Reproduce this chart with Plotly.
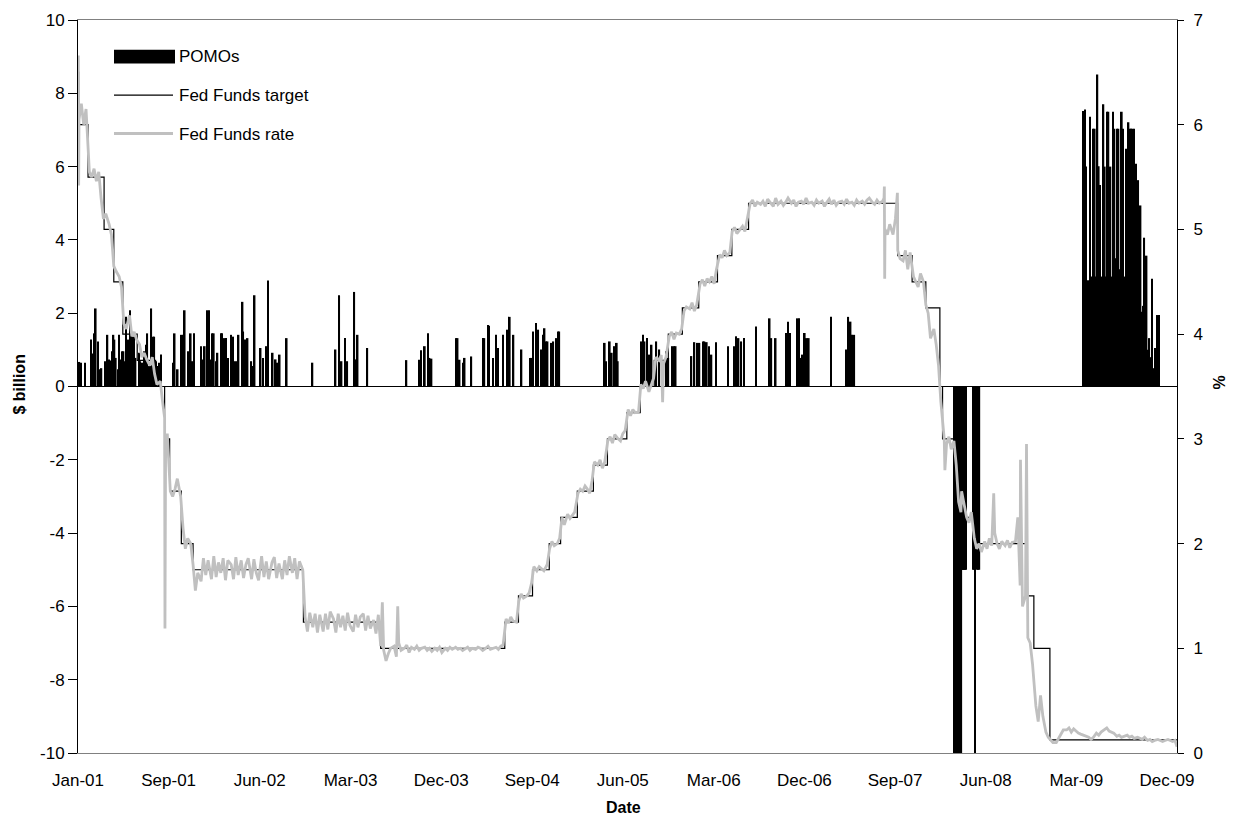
import pandas as pd
import plotly.graph_objects as go

# ---------------------------------------------------------------- data
# Permanent open market operations ($ billion), by settlement date
pomo_dates = [
    "2001-01-05", "2001-01-10", "2001-01-22", "2001-02-09", "2001-02-14", "2001-02-20", "2001-02-23",
    "2001-03-02", "2001-03-07", "2001-03-12", "2001-03-23", "2001-03-30", "2001-04-04", "2001-04-09",
    "2001-04-13", "2001-04-17", "2001-04-20", "2001-04-24", "2001-05-01", "2001-05-04", "2001-05-10",
    "2001-05-14", "2001-05-17", "2001-05-22", "2001-05-25", "2001-06-01", "2001-06-06", "2001-06-11",
    "2001-06-18", "2001-06-22", "2001-07-02", "2001-07-06", "2001-07-12", "2001-07-18", "2001-07-24",
    "2001-07-27", "2001-08-03", "2001-08-08", "2001-08-13", "2001-08-17", "2001-08-22", "2001-08-27",
    "2001-08-31", "2001-09-06", "2001-10-12", "2001-10-17", "2001-10-26", "2001-11-07", "2001-11-12",
    "2001-11-16", "2001-11-26", "2001-12-04", "2001-12-10", "2001-12-14",
    "2002-01-04", "2002-01-10", "2002-01-15", "2002-01-23", "2002-01-28", "2002-01-31", "2002-02-07",
    "2002-02-11", "2002-02-19", "2002-02-22", "2002-03-05", "2002-03-08", "2002-03-12", "2002-03-15",
    "2002-03-20", "2002-03-25", "2002-04-04", "2002-04-10", "2002-04-16", "2002-04-22", "2002-04-26",
    "2002-05-08", "2002-05-10", "2002-05-15", "2002-05-23", "2002-06-03", "2002-06-07", "2002-06-13",
    "2002-07-01", "2002-07-08", "2002-07-18", "2002-07-23", "2002-08-06", "2002-08-15", "2002-08-21",
    "2002-08-27", "2002-09-17", "2002-12-03",
    "2003-02-10", "2003-02-21", "2003-02-28", "2003-03-10", "2003-03-17", "2003-04-07", "2003-04-14",
    "2003-04-17", "2003-05-16", "2003-09-10", "2003-10-20", "2003-10-24", "2003-11-04", "2003-11-14",
    "2003-11-18", "2003-11-24",
    "2004-02-06", "2004-02-10", "2004-02-16", "2004-02-26", "2004-03-02", "2004-03-22", "2004-04-26",
    "2004-04-30", "2004-05-11", "2004-05-14", "2004-05-26", "2004-06-04", "2004-06-10", "2004-06-25",
    "2004-07-09", "2004-07-15", "2004-07-26", "2004-08-19", "2004-09-13", "2004-09-17", "2004-09-23",
    "2004-10-01", "2004-10-05", "2004-10-08", "2004-10-18", "2004-10-22", "2004-10-27", "2004-11-01",
    "2004-11-05", "2004-11-16", "2004-11-22", "2004-12-01", "2004-12-07", "2004-12-10",
    "2005-04-25", "2005-04-29", "2005-05-10", "2005-05-16", "2005-05-25", "2005-05-31", "2005-06-03",
    "2005-08-12", "2005-08-17", "2005-08-22", "2005-08-29", "2005-09-06", "2005-09-12", "2005-09-26",
    "2005-10-05", "2005-10-25", "2005-11-01", "2005-11-14", "2005-11-18", "2005-11-23",
    "2006-01-09", "2006-01-18", "2006-01-27", "2006-02-02", "2006-02-13", "2006-02-17", "2006-02-24",
    "2006-03-03", "2006-03-10", "2006-03-24", "2006-04-28", "2006-05-16", "2006-05-23", "2006-05-30",
    "2006-06-07", "2006-06-15", "2006-07-21", "2006-08-31", "2006-09-05", "2006-09-18", "2006-10-20",
    "2006-10-25", "2006-10-31", "2006-11-22", "2006-11-27", "2006-12-04", "2006-12-08", "2006-12-14",
    "2006-12-20", "2006-12-26",
    "2007-03-02", "2007-04-16", "2007-04-23", "2007-04-30", "2007-05-04", "2007-05-11",
    "2008-03-06", "2008-03-08", "2008-03-10", "2008-03-12", "2008-03-14", "2008-03-16", "2008-03-18",
    "2008-03-20", "2008-03-22", "2008-03-24", "2008-03-26", "2008-03-28", "2008-03-30", "2008-04-01",
    "2008-04-03", "2008-04-05", "2008-04-07", "2008-04-09", "2008-04-30", "2008-05-02", "2008-05-04",
    "2008-05-06", "2008-05-08", "2008-05-12", "2008-05-14", "2008-05-16", "2008-05-19",
    "2009-03-25", "2009-03-28", "2009-03-31", "2009-04-03", "2009-04-09", "2009-04-15", "2009-04-18",
    "2009-04-22", "2009-04-25", "2009-04-29", "2009-05-03", "2009-05-07", "2009-05-11", "2009-05-15",
    "2009-05-18", "2009-05-22", "2009-05-25", "2009-05-29", "2009-06-02", "2009-06-05", "2009-06-09",
    "2009-06-12", "2009-06-15", "2009-06-19", "2009-06-23", "2009-06-27", "2009-07-01", "2009-07-05",
    "2009-07-09", "2009-07-12", "2009-07-16", "2009-07-19", "2009-07-23", "2009-07-27", "2009-08-01",
    "2009-08-05", "2009-08-08", "2009-08-12", "2009-08-16", "2009-08-20", "2009-08-24", "2009-08-27",
    "2009-08-30", "2009-09-03", "2009-09-06", "2009-09-10", "2009-09-13", "2009-09-17", "2009-09-21",
    "2009-09-24", "2009-09-28", "2009-10-01", "2009-10-05", "2009-10-09", "2009-10-13", "2009-10-17",
    "2009-10-22", "2009-10-26", "2009-10-30", "2009-11-03", "2009-11-07",
]
pomo_values = [
    0.67, 0.65, 0.65, 1.28, 0.90, 1.45, 2.13,
    1.23, 0.47, 0.50, 0.69, 1.41, 0.74, 0.71,
    0.96, 1.41, 1.28, 0.78, 0.47, 1.41, 0.74,
    0.96, 0.96, 0.69, 1.90, 1.28, 2.08, 1.45,
    1.36, 0.78, 0.92, 0.69, 0.65, 0.96, 1.14,
    1.45, 0.56, 2.13, 1.36, 1.36, 0.69, 0.56,
    0.65, 0.87, 0.65, 1.45, 0.47, 1.41, 1.41,
    2.08, 0.96, 1.45, 0.69, 1.45,
    1.10, 0.74, 1.10, 2.08, 2.08, 0.74, 1.45,
    1.45, 0.69, 0.92, 1.45, 1.45, 1.05, 1.32,
    1.32, 0.78, 1.41, 1.36, 0.69, 0.69, 1.41,
    2.31, 1.50, 1.28, 1.32, 0.69, 0.56, 2.49,
    1.05, 0.78, 1.10, 2.89, 0.92, 0.74, 0.65,
    0.87, 1.32, 0.65,
    1.01, 2.49, 0.69, 1.32, 0.69, 2.58, 0.74,
    1.41, 1.05, 0.72, 0.73, 0.99, 1.10, 1.45,
    0.78, 0.76,
    1.32, 1.32, 0.73, 0.65, 0.78, 0.82, 1.32,
    1.32, 1.68, 1.66, 0.78, 1.41, 1.05, 1.41,
    1.55, 1.90, 1.41, 1.01, 0.78, 0.78, 1.50,
    1.73, 1.19, 1.55, 1.01, 1.41, 1.59, 1.23,
    1.23, 1.19, 1.23, 1.32, 1.50, 1.50,
    1.19, 0.69, 1.23, 0.92, 1.10, 1.19, 0.69,
    1.23, 1.41, 1.23, 1.32, 0.87, 1.14, 1.23,
    1.01, 0.96, 0.78, 1.10, 1.10, 1.10,
    0.83, 1.21, 1.19, 1.19, 1.23, 1.23, 1.21,
    1.10, 0.87, 1.21, 1.10, 1.10, 1.37, 1.32,
    1.23, 1.32, 1.64, 1.86, 1.32, 1.32, 1.46,
    1.77, 1.46, 1.86, 1.86, 0.78, 0.87, 1.46,
    1.32, 1.32,
    1.90, 1.01, 1.90, 1.77, 1.41, 1.41,
    -10.4, -10.4, -10.4, -10.4, -10.4, -10.4, -10.4,
    -10.4, -10.4, -10.4, -10.4, -5.0, -5.0, -5.0,
    -5.0, -5.0, -5.0, -5.0, -5.0, -2.6, -5.0,
    -10.4, -2.6, -5.0, -2.6, -5.0, -5.0,
    7.52, 4.40, 7.56, 6.00, 2.90, 7.36, 3.00,
    2.80, 7.03, 7.03, 3.00, 8.51, 6.01, 5.50,
    2.70, 3.00, 7.70, 6.00, 3.00, 7.50, 7.50,
    3.50, 6.00, 3.00, 7.50, 7.03, 3.50, 7.03,
    7.03, 3.00, 3.20, 7.50, 7.03, 3.00, 6.49,
    3.00, 7.21, 7.03, 7.03, 7.03, 7.03, 3.20,
    6.08, 3.00, 5.63, 2.20, 4.94, 2.04, 2.20,
    4.06, 1.50, 3.57, 1.00, 1.32, 0.80, 2.94,
    0.50, 1.05, 0.60, 1.95, 1.95,
]

# Fed Funds target: date each new level took effect (%)
target_dates = [
    "2001-01-01", "2001-01-03", "2001-01-31", "2001-03-20", "2001-04-18", "2001-05-15",
    "2001-06-27", "2001-08-21", "2001-09-17", "2001-10-02", "2001-11-06", "2001-12-11",
    "2002-11-06", "2003-06-25", "2004-06-30", "2004-08-10", "2004-09-21", "2004-11-10",
    "2004-12-14", "2005-02-02", "2005-03-22", "2005-05-03", "2005-06-30", "2005-08-09",
    "2005-09-20", "2005-11-01", "2005-12-13", "2006-01-31", "2006-03-28", "2006-05-10",
    "2006-06-29", "2007-09-18", "2007-10-31", "2007-12-11", "2008-01-22", "2008-01-30",
    "2008-03-18", "2008-04-30", "2008-10-08", "2008-10-29", "2008-12-16", "2009-12-31",
]
target_levels = [
    6.50, 6.00, 5.50, 5.00, 4.50, 4.00,
    3.75, 3.50, 3.00, 2.50, 2.00, 1.75,
    1.25, 1.00, 1.25, 1.50, 1.75, 2.00,
    2.25, 2.50, 2.75, 3.00, 3.25, 3.50,
    3.75, 4.00, 4.25, 4.50, 4.75, 5.00,
    5.25, 4.75, 4.50, 4.25, 3.50, 3.00,
    2.25, 2.00, 1.50, 1.00, 0.125, 0.125,
]

# Effective Fed Funds rate (%), four readings a month (days 4, 11, 18, 25)
rate_sample_days = [4, 11, 18, 25]
rate_2001 = [6.05, 6.20, 6.00, 6.15, 5.55, 5.50, 5.58, 5.46, 5.55, 5.30, 5.10, 5.15,
             5.05, 4.95, 4.65, 4.60, 4.55, 4.45, 4.10, 4.05, 4.18, 3.98, 4.02, 3.95,
             3.90, 3.78, 3.82, 3.76, 3.70, 3.78, 3.62, 3.52, 3.55, 3.35, 1.19, 3.05,
             2.50, 2.45, 2.52, 2.62, 2.45, 2.15, 1.95, 2.05, 2.00, 1.80, 1.55, 1.72]
rate_2002 = [1.64, 1.86, 1.70, 1.84, 1.66, 1.88, 1.68, 1.82, 1.72, 1.86, 1.65, 1.84,
             1.80, 1.66, 1.87, 1.70, 1.84, 1.67, 1.80, 1.86, 1.66, 1.85, 1.72, 1.65,
             1.88, 1.68, 1.83, 1.66, 1.82, 1.87, 1.67, 1.81, 1.66, 1.84, 1.70, 1.88,
             1.72, 1.86, 1.66, 1.83, 1.75, 1.30, 1.16, 1.34, 1.20, 1.33, 1.15, 1.32]
rate_2003 = [1.16, 1.33, 1.18, 1.35, 1.28, 1.15, 1.33, 1.20, 1.31, 1.17, 1.34, 1.22,
             1.16, 1.32, 1.20, 1.30, 1.33, 1.17, 1.31, 1.19, 1.27, 1.14, 1.32, 1.02,
             0.98, 0.88, 0.95, 1.00, 1.02, 0.92, 1.05, 0.98, 1.00, 1.03, 0.96, 1.01,
             0.99, 1.02, 0.98, 1.00, 1.01, 0.98, 1.00, 0.97, 1.00, 0.98, 1.01, 0.96]
rate_2004 = [1.00, 0.98, 1.01, 0.99, 1.01, 0.99, 1.00, 0.98, 1.00, 1.01, 0.98, 1.00,
             0.99, 1.01, 1.00, 0.98, 1.00, 1.02, 0.99, 1.00, 1.01, 0.99, 1.02, 1.03,
             1.28, 1.24, 1.30, 1.26, 1.25, 1.45, 1.52, 1.48, 1.50, 1.53, 1.62, 1.78,
             1.74, 1.78, 1.76, 1.74, 1.80, 1.95, 2.02, 1.98, 2.00, 2.05, 2.25, 2.18]
rate_2005 = [2.28, 2.24, 2.27, 2.30, 2.48, 2.52, 2.50, 2.55, 2.52, 2.48, 2.60, 2.78,
             2.75, 2.80, 2.72, 2.78, 2.98, 3.02, 2.96, 3.04, 3.00, 2.98, 3.05, 3.08,
             3.28, 3.22, 3.28, 3.25, 3.26, 3.52, 3.48, 3.55, 3.45, 3.52, 3.58, 3.78,
             3.75, 3.80, 3.72, 3.78, 3.98, 4.02, 3.95, 4.01, 4.00, 4.05, 4.22, 4.26]
rate_2006 = [4.24, 4.30, 4.22, 4.28, 4.48, 4.52, 4.46, 4.53, 4.50, 4.55, 4.48, 4.62,
             4.76, 4.73, 4.80, 4.75, 4.78, 4.98, 5.02, 4.96, 5.00, 5.03, 4.98, 5.10,
             5.25, 5.28, 5.22, 5.26, 5.24, 5.27, 5.22, 5.29, 5.25, 5.22, 5.30, 5.24,
             5.27, 5.23, 5.26, 5.30, 5.25, 5.28, 5.22, 5.26, 5.27, 5.24, 5.30, 5.25]
rate_2007 = [5.26, 5.23, 5.28, 5.25, 5.27, 5.22, 5.26, 5.29, 5.24, 5.28, 5.23, 5.26,
             5.27, 5.24, 5.29, 5.25, 5.26, 5.23, 5.28, 5.25, 5.27, 5.24, 5.28, 5.30,
             5.26, 5.24, 5.28, 5.25, 5.27, 5.00, 4.95, 5.05, 4.95, 5.10, 4.80, 4.72,
             4.70, 4.80, 4.62, 4.78, 4.55, 4.50, 4.45, 4.58, 4.50, 4.28, 4.20, 3.96]
rate_2008 = [4.05, 3.90, 3.70, 3.35, 3.00, 2.95, 3.02, 2.90, 2.98, 2.75, 2.40, 2.30,
             2.35, 2.25, 2.20, 2.30, 2.05, 1.95, 2.00, 1.92, 2.02, 1.95, 2.05, 1.98,
             2.10, 2.00, 1.95, 2.02, 1.98, 2.03, 1.96, 2.01, 2.02, 2.25, 1.60, 1.40,
             1.50, 1.10, 1.05, 0.85, 0.45, 0.30, 0.55, 0.35, 0.20, 0.15, 0.12, 0.10]
rate_2009 = [0.10, 0.14, 0.18, 0.22, 0.22, 0.24, 0.20, 0.23, 0.21, 0.19, 0.18, 0.17,
             0.16, 0.15, 0.13, 0.15, 0.19, 0.17, 0.20, 0.22, 0.24, 0.21, 0.20, 0.19,
             0.16, 0.17, 0.15, 0.16, 0.17, 0.15, 0.16, 0.14, 0.15, 0.14, 0.13, 0.15,
             0.12, 0.13, 0.11, 0.12, 0.13, 0.12, 0.11, 0.12, 0.13, 0.12, 0.11, 0.12]
# single-day readings between the regular ones
rate_extra_dates = ["2001-01-02", "2001-01-03", "2001-09-17", "2001-09-20", "2003-06-30",
                    "2003-08-15", "2005-10-15", "2007-08-08", "2007-08-09", "2007-08-10",
                    "2007-09-17", "2008-02-06", "2008-03-27", "2008-07-01", "2008-09-19",
                    "2008-10-07", "2009-12-31"]
rate_extra_values = [6.66, 5.42, 3.20, 2.95, 1.44,
                     1.40, 3.35, 5.30, 5.41, 4.53,
                     5.35, 2.70, 2.50, 2.48, 2.80,
                     2.95, 0.06]

tick_dates = ["2001-01-01", "2001-09-29", "2002-06-28", "2003-03-27", "2003-12-23",
              "2004-09-20", "2005-06-18", "2006-03-17", "2006-12-13", "2007-09-10",
              "2008-06-07", "2009-03-05", "2009-12-01"]
tick_labels = ["Jan-01", "Sep-01", "Jun-02", "Mar-03", "Dec-03", "Sep-04", "Jun-05",
               "Mar-06", "Dec-06", "Sep-07", "Jun-08", "Mar-09", "Dec-09"]
left_ticks = [-10, -8, -6, -4, -2, 0, 2, 4, 6, 8, 10]
right_ticks = [0, 1, 2, 3, 4, 5, 6, 7]

# ---------------------------------------------------------------- series assembly
rate_by_year = {2001: rate_2001, 2002: rate_2002, 2003: rate_2003, 2004: rate_2004,
                2005: rate_2005, 2006: rate_2006, 2007: rate_2007, 2008: rate_2008,
                2009: rate_2009}
rows = []
for year, values in rate_by_year.items():
    stamps = [pd.Timestamp(year, m, d) for m in range(1, 13) for d in rate_sample_days]
    rows += list(zip(stamps, values))
rows += list(zip(pd.to_datetime(rate_extra_dates), rate_extra_values))
rate = pd.DataFrame(rows, columns=["date", "value"]).sort_values("date")

# ---------------------------------------------------------------- figure
W, H = 1237, 824
L, R, T, B = 78, 1177, 11, 753          # plot-area edges in pixels
FONT = "Liberation Sans, Arial, sans-serif"


def px(xp):
    return (xp - L) / (R - L)


def py(yp):
    return (B - yp) / (B - T)


DAY_MS = 86400000
fig = go.Figure()
fig.add_trace(go.Bar(
    x=pd.to_datetime(pomo_dates), y=pomo_values, width=5 * DAY_MS,
    marker=dict(color="black", line=dict(width=0)), name="POMOs", showlegend=False,
))
fig.add_trace(go.Scatter(
    x=pd.to_datetime(target_dates), y=target_levels, yaxis="y2", mode="lines",
    line=dict(color="black", width=1.2, shape="hv"), name="Fed Funds target", showlegend=False,
))
fig.add_trace(go.Scatter(
    x=rate["date"], y=rate["value"], yaxis="y2", mode="lines",
    line=dict(color="#c0c0c0", width=2.8), name="Fed Funds rate", showlegend=False,
))

# legend drawn by hand (wide key symbols)
shapes = [
    dict(type="rect", xref="paper", yref="paper", x0=px(114), x1=px(175), y0=py(55), y1=py(41),
         fillcolor="black", line=dict(width=0)),
    dict(type="line", xref="paper", yref="paper", x0=px(114), x1=px(173), y0=py(87), y1=py(87),
         line=dict(color="black", width=1.3)),
    dict(type="line", xref="paper", yref="paper", x0=px(114), x1=px(173), y0=py(126), y1=py(126),
         line=dict(color="#c0c0c0", width=3)),
]
legend_text = [("POMOs", 48), ("Fed Funds target", 87), ("Fed Funds rate", 127)]
annotations = [
    dict(text=t, x=px(177), y=py(yy), xref="paper", yref="paper", xanchor="left", yanchor="middle",
         showarrow=False, font=dict(family=FONT, size=17, color="black"))
    for t, yy in legend_text
]
annotations += [
    dict(text="<b>Date</b>", x=px(623), y=py(808), xref="paper", yref="paper",
         xanchor="center", yanchor="middle", showarrow=False,
         font=dict(family=FONT, size=16, color="black")),
    dict(text="<b>$ billion</b>", x=px(20), y=py(380), xref="paper", yref="paper",
         xanchor="center", yanchor="middle", textangle=-90, showarrow=False,
         font=dict(family=FONT, size=16, color="black")),
    dict(text="<b>%</b>", x=px(1220), y=py(378), xref="paper", yref="paper",
         xanchor="center", yanchor="middle", textangle=-90, showarrow=False,
         font=dict(family=FONT, size=16, color="black")),
]

fig.update_layout(
    width=W, height=H,
    margin=dict(l=L, r=W - R, t=T, b=H - B, pad=0),
    paper_bgcolor="white", plot_bgcolor="white",
    font=dict(family=FONT, size=17, color="black"),
    showlegend=False,
    shapes=shapes, annotations=annotations,
    xaxis=dict(
        type="date", range=["2001-01-01", "2009-12-31"],
        tickvals=pd.to_datetime(tick_dates), ticktext=tick_labels,
        ticks="", showgrid=False, zeroline=False,
        showline=True, linecolor="#808080", linewidth=1, mirror=True,
        ticklabelstandoff=12, tickfont=dict(family=FONT, size=17),
    ),
    yaxis=dict(
        range=[-10, 10], tickvals=left_ticks, ticktext=[str(v) for v in left_ticks],
        ticks="outside", ticklen=9, tickcolor="black", tickwidth=1,
        showgrid=False, showline=True, linecolor="black", linewidth=1,
        zeroline=True, zerolinecolor="black", zerolinewidth=1,
        tickfont=dict(family=FONT, size=17),
    ),
    yaxis2=dict(
        range=[0, 7], tickvals=right_ticks, ticktext=[str(v) for v in right_ticks],
        overlaying="y", side="right",
        ticks="outside", ticklen=6, tickcolor="black", tickwidth=1,
        showgrid=False, showline=True, linecolor="black", linewidth=1, zeroline=False,
        ticklabelstandoff=6, tickfont=dict(family=FONT, size=17),
    ),
)

fig.write_html("out.html")
